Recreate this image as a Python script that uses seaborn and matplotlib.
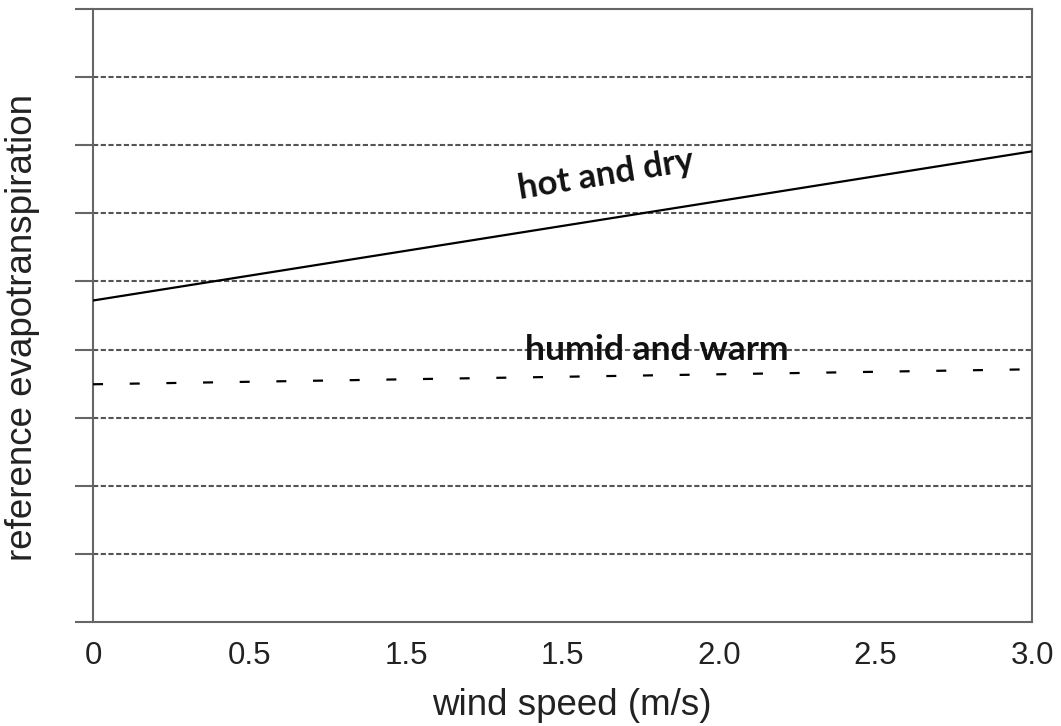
import pandas as pd
import seaborn as sns
import matplotlib.pyplot as plt

# values (y axis has no labels, units = grid steps)
wind_speed = [0.0, 3.0]
hot_and_dry = [4.72, 6.91]
humid_and_warm = [3.49, 3.71]

tick_pos = [0, 0.5, 1.0, 1.5, 2.0, 2.5, 3.0]
tick_labels = ["0", "0.5", "1.5", "1.5", "2.0", "2.5", "3.0"]

df = pd.DataFrame({
    "wind": wind_speed * 2,
    "et": hot_and_dry + humid_and_warm,
    "climate": ["hot and dry"] * 2 + ["humid and warm"] * 2,
})

sns.set_style("white")
plt.rcParams["font.family"] = ["Liberation Sans", "DejaVu Sans"]

fig = plt.figure(figsize=(10.61, 7.26), dpi=100)
ax = fig.add_axes([0.0877, 0.1433, 0.885, 0.8443])

# dashed grid lines
for y in range(1, 9):
    ax.axhline(y, color="#555555", lw=1.5, dashes=(2.5, 1.2), zorder=1)

sns.lineplot(data=df, x="wind", y="et", style="climate",
             dashes={"hot and dry": "", "humid and warm": (4.5, 12)},
             color="black", lw=1.6, legend=False, ax=ax, zorder=3)

ax.set_xlim(0, 3)
ax.set_ylim(0, 9)
ax.set_xticks(tick_pos)
ax.set_xticklabels(tick_labels)
ax.set_yticks(range(0, 10))
ax.set_yticklabels([])

ax.tick_params(axis="x", direction="inout", length=14, width=1.5,
               color="#666666", labelsize=22.5, labelcolor="#222222", pad=7)
ax.tick_params(axis="y", direction="out", length=13, width=1.5,
               color="#666666", left=True)
for s in ax.spines.values():
    s.set_color("#666666")
    s.set_linewidth(1.5)

ax.set_xlabel("wind speed (m/s)", fontsize=26.5, color="#222222")
ax.set_ylabel("reference evapotranspiration", fontsize=26.5, color="#222222")
ax.xaxis.set_label_coords(0.51, -0.108)
ax.yaxis.set_label_coords(-0.056, 0.48)

ax.text(1.64, 6.56, "hot and dry", fontsize=25, fontweight="bold",
        family=["Lato", "DejaVu Sans"], rotation=9.3, ha="center", va="center",
        color="#111111")
ax.text(1.8, 4.0, "humid and warm", fontsize=25.5, fontweight="bold",
        family=["Lato", "DejaVu Sans"], ha="center", va="center", color="#111111")

fig.savefig("out.png", dpi=100)
